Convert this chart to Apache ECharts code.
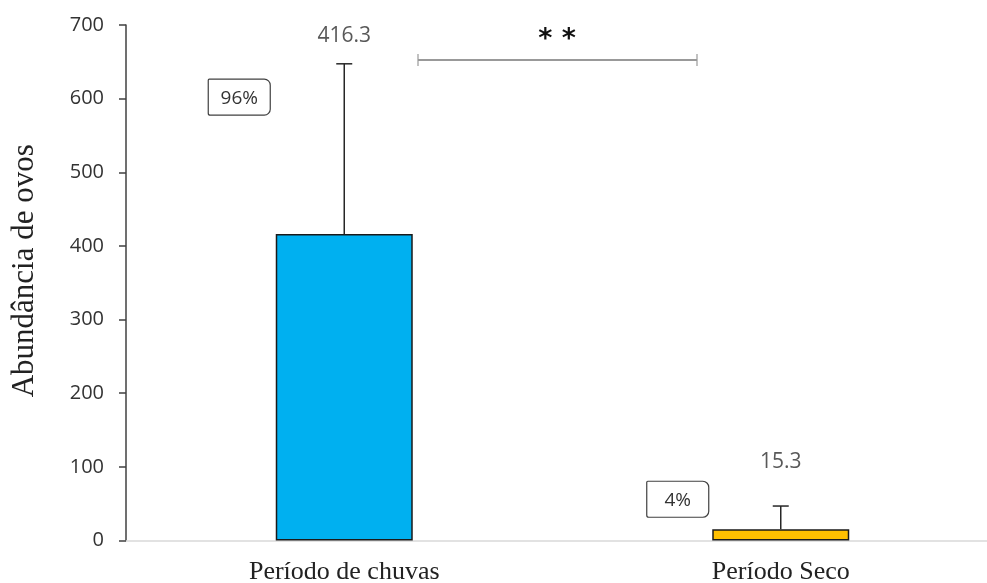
<!DOCTYPE html>
<html>
<head>
<meta charset="utf-8">
<script src="https://cdn.jsdelivr.net/npm/echarts@6/dist/echarts.min.js"></script>
<style>
  html, body { margin: 0; padding: 0; background: #fff; }
  #chart { width: 987px; height: 583px; }
</style>
</head>
<body>
<div id="chart"></div>
<script>
// Egg abundance by season
const categories = ['Período de chuvas', 'Período Seco'];
const means = [416.3, 15.3];
const errors = [231, 31.5];
const shares = ['96%', '4%'];
const yTicks = [0, 100, 200, 300, 400, 500, 600, 700];
const significance = '* *';

const barColors = ['#00B0F0', '#FFC000'];
// placement (in axis units) of the value labels and share boxes
const valueLabelAt = [685, 106];
const shareBoxAt = [602, 56];
const shareBoxShift = [-105, -103];

const chart = echarts.init(document.getElementById('chart'), null, { renderer: 'canvas' });

chart.setOption({
  animation: false,
  grid: { left: 126, right: -12, top: 25, bottom: 42.5, containLabel: false, outerBoundsMode: 'none' },
  xAxis: {
    type: 'category',
    data: categories,
    axisLine: { show: true, lineStyle: { color: '#d9d9d9', width: 1.5 } },
    axisTick: { show: false },
    axisLabel: {
      margin: 19,
      fontFamily: 'Liberation Serif',
      fontSize: 26,
      color: '#222'
    }
  },
  yAxis: {
    type: 'value',
    min: yTicks[0],
    max: yTicks[yTicks.length - 1],
    interval: yTicks[1] - yTicks[0],
    name: 'Abundância de ovos',
    nameLocation: 'middle',
    nameGap: 86,
    nameRotate: 90,
    nameTextStyle: { fontFamily: 'Liberation Serif', fontSize: 31, color: '#222', padding: [0, 0, 0, 24] },
    axisLine: { show: true, lineStyle: { color: '#404040', width: 1.5 } },
    axisTick: { show: true, inside: false, length: 7, lineStyle: { color: '#404040', width: 1.5 } },
    axisLabel: { margin: 22, fontFamily: 'Open Sans', fontSize: 20, color: '#333' },
    splitLine: { show: false }
  },
  series: [
    {
      type: 'bar',
      barWidth: 137,
      data: means.map((v, i) => ({
        value: v,
        itemStyle: { color: barColors[i], borderColor: '#1a1a1a', borderWidth: 1.5 }
      })),
      z: 2
    },
    {
      // error bars, value labels and share boxes
      type: 'custom',
      data: means.map((v, i) => [i, v, errors[i]]),
      z: 3,
      renderItem: function (params, api) {
        const i = api.value(0);
        const mean = api.value(1);
        const err = api.value(2);
        const base = api.coord([i, mean]);
        const top = api.coord([i, mean + err]);
        const lab = api.coord([i, valueLabelAt[i]]);
        const cap = 8;
        const boxW = 62, boxH = 36;
        const boxCenterY = api.coord([i, shareBoxAt[i]])[1];
        const bx = base[0] + shareBoxShift[i] - boxW / 2;
        const by = boxCenterY - boxH / 2;
        return {
          type: 'group',
          children: [
            { type: 'line', shape: { x1: base[0], y1: base[1], x2: top[0], y2: top[1] },
              style: { stroke: '#262626', lineWidth: 1.5 } },
            { type: 'line', shape: { x1: top[0] - cap, y1: top[1], x2: top[0] + cap, y2: top[1] },
              style: { stroke: '#262626', lineWidth: 1.5 } },
            { type: 'text', x: lab[0], y: lab[1],
              style: { text: String(mean), fill: '#595959', font: '21px "Open Sans"',
                       align: 'center', verticalAlign: 'middle' } },
            { type: 'rect', shape: { x: bx, y: by, width: boxW, height: boxH, r: [1, 6, 6, 2] },
              style: { fill: '#fff', stroke: '#404040', lineWidth: 1.2 } },
            { type: 'text', x: bx + boxW / 2, y: by + boxH / 2 + 1,
              style: { text: shares[i], fill: '#333', font: '19px "Open Sans"',
                       align: 'center', verticalAlign: 'middle' } }
          ]
        };
      }
    }
  ],
  graphic: [
    {
      type: 'group',
      children: [
        { type: 'line', shape: { x1: 418, y1: 60, x2: 697, y2: 60 }, style: { stroke: '#999', lineWidth: 2 } },
        { type: 'line', shape: { x1: 418, y1: 54, x2: 418, y2: 66 }, style: { stroke: '#999', lineWidth: 1.2 } },
        { type: 'line', shape: { x1: 697, y1: 54, x2: 697, y2: 66 }, style: { stroke: '#999', lineWidth: 1.2 } },
        { type: 'text', x: 557, y: 40,
          style: { text: significance, fill: '#111', font: 'bold 27px "DejaVu Sans"',
                   align: 'center', verticalAlign: 'middle' } }
      ]
    }
  ]
});
</script>
</body>
</html>
